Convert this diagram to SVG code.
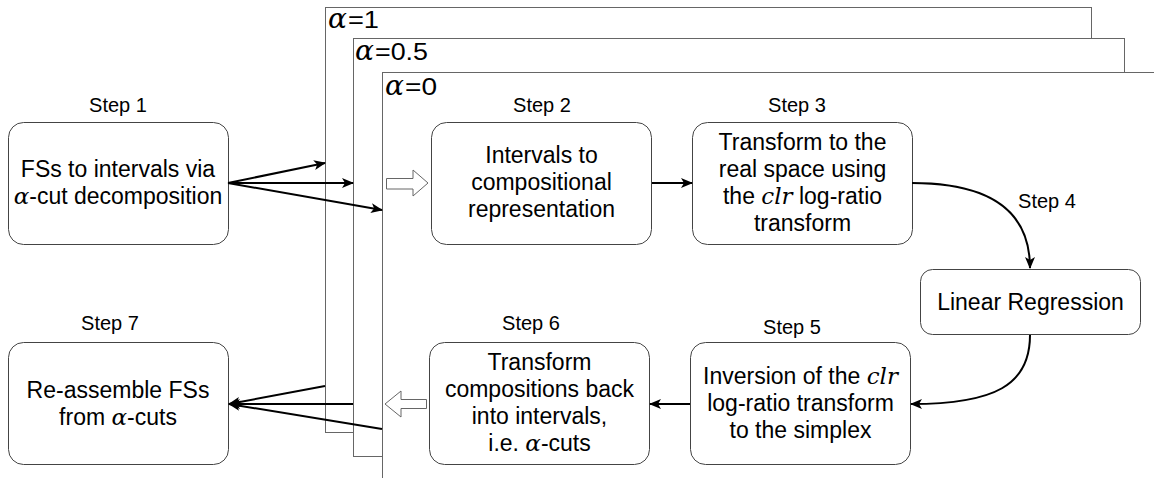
<svg xmlns="http://www.w3.org/2000/svg" width="1154" height="478" viewBox="0 0 1154 478">
<style>
.frame{fill:#fff;stroke:#666;stroke-width:1}
.box{fill:#fff;stroke:#444;stroke-width:1}
.t{font-family:"Liberation Sans",Arial,sans-serif;font-size:23px;fill:#000;text-anchor:middle}
.s{font-family:"Liberation Sans",Arial,sans-serif;font-size:20px;fill:#000;text-anchor:middle}
.m{font-family:"DejaVu Serif","Liberation Serif",serif;font-style:italic;font-size:23px}
.fl{font-family:"Liberation Sans",Arial,sans-serif;font-size:24px;fill:#000}
.fa{font-family:"DejaVu Serif","Liberation Serif",serif;font-style:italic;font-size:28px;fill:#000}
.c{fill:none;stroke:#000;stroke-width:2}
.h{fill:#fff;stroke:#666;stroke-width:1}
</style>
<defs>
<marker id="ah" markerUnits="userSpaceOnUse" markerWidth="14" markerHeight="12" refX="11" refY="5" orient="auto">
<path d="M0,0 L12,5 L0,10 L3,5 Z" fill="#000"/>
</marker>
</defs>
<g id="frame-a1">
<rect class="frame" x="325.5" y="7.5" width="766" height="425"/>
<text x="328" y="28" class="fa">α</text>
<text x="348" y="28" class="fl" textLength="31" lengthAdjust="spacingAndGlyphs">=1</text>
</g>
<g id="frame-a05">
<rect class="frame" x="353.5" y="38.5" width="771" height="418"/>
<text x="355" y="60" class="fa">α</text>
<text x="375" y="60" class="fl" textLength="53" lengthAdjust="spacingAndGlyphs">=0.5</text>
</g>
<g id="frame-a0">
<rect class="frame" x="382.5" y="72.5" width="800" height="500"/>
<text x="385" y="95" class="fa">α</text>
<text x="405" y="95" class="fl" textLength="32" lengthAdjust="spacingAndGlyphs">=0</text>
</g>
<g id="step1">
<text x="118" y="112" class="s">Step 1</text>
<rect class="box" x="8.5" y="122.5" width="220" height="122" rx="15"/>
<text x="118" y="177" class="t">FSs to intervals via</text>
<text x="118" y="204" class="t"><tspan class="m">α</tspan>-cut decomposition</text>
</g>
<g id="step2">
<text x="542" y="112" class="s">Step 2</text>
<rect class="box" x="431.5" y="122.5" width="220" height="122" rx="15"/>
<text x="541.5" y="163" class="t">Intervals to</text>
<text x="541.5" y="190" class="t">compositional</text>
<text x="541.5" y="217" class="t">representation</text>
</g>
<g id="step3">
<text x="797" y="112" class="s">Step 3</text>
<rect class="box" x="692.5" y="122.5" width="220" height="122" rx="15"/>
<text x="802.5" y="150" class="t">Transform to the</text>
<text x="802.5" y="177" class="t">real space using</text>
<text x="802.5" y="204" class="t">the <tspan class="m">clr</tspan> log-ratio</text>
<text x="802.5" y="231" class="t">transform</text>
</g>
<g id="step4">
<text x="1047" y="208" class="s">Step 4</text>
<rect class="box" x="920.5" y="269.5" width="220" height="65" rx="12"/>
<text x="1030.5" y="310" class="t">Linear Regression</text>
</g>
<g id="step5">
<text x="792" y="334" class="s">Step 5</text>
<rect class="box" x="690.5" y="342.5" width="220" height="122" rx="15"/>
<text x="800.5" y="384" class="t">Inversion of the <tspan class="m">clr</tspan></text>
<text x="800.5" y="411" class="t">log-ratio transform</text>
<text x="800.5" y="438" class="t">to the simplex</text>
</g>
<g id="step6">
<text x="531" y="330" class="s">Step 6</text>
<rect class="box" x="429.5" y="342.5" width="220" height="122" rx="15"/>
<text x="539.5" y="370" class="t">Transform</text>
<text x="539.5" y="397" class="t">compositions back</text>
<text x="539.5" y="424" class="t">into intervals,</text>
<text x="539.5" y="451" class="t">i.e. <tspan class="m">α</tspan>-cuts</text>
</g>
<g id="step7">
<text x="110" y="330" class="s">Step 7</text>
<rect class="box" x="8.5" y="342.5" width="220" height="122" rx="15"/>
<text x="118" y="398" class="t">Re-assemble FSs</text>
<text x="118" y="425" class="t">from <tspan class="m">α</tspan>-cuts</text>
</g>
<g id="connectors">
<line class="c" x1="228" y1="183" x2="325" y2="163" marker-end="url(#ah)"/>
<line class="c" x1="228" y1="183" x2="353" y2="183" marker-end="url(#ah)"/>
<line class="c" x1="228" y1="183" x2="382" y2="210" marker-end="url(#ah)"/>
<path class="h" d="M386.5,178.5 L413,178.5 L413,170 L428,183 L413,196 L413,189 L386.5,189 Z"/>
<line class="c" x1="652" y1="183" x2="692" y2="183" marker-end="url(#ah)"/>
<path class="c" d="M912,183 C995,183 1030,215 1030,268" marker-end="url(#ah)"/>
<path class="c" d="M1030,335 C1030,385 995,404 911,404" marker-end="url(#ah)"/>
<line class="c" x1="690" y1="404" x2="650" y2="404" marker-end="url(#ah)"/>
<path class="h" d="M426.5,399.5 L401,399.5 L401,391 L385,404 L401,417 L401,408.5 L426.5,408.5 Z"/>
<line class="c" x1="325" y1="386" x2="229" y2="404" marker-end="url(#ah)"/>
<line class="c" x1="353" y1="404" x2="229" y2="404" marker-end="url(#ah)"/>
<line class="c" x1="382" y1="429" x2="229" y2="404" marker-end="url(#ah)"/>
</g>
</svg>
